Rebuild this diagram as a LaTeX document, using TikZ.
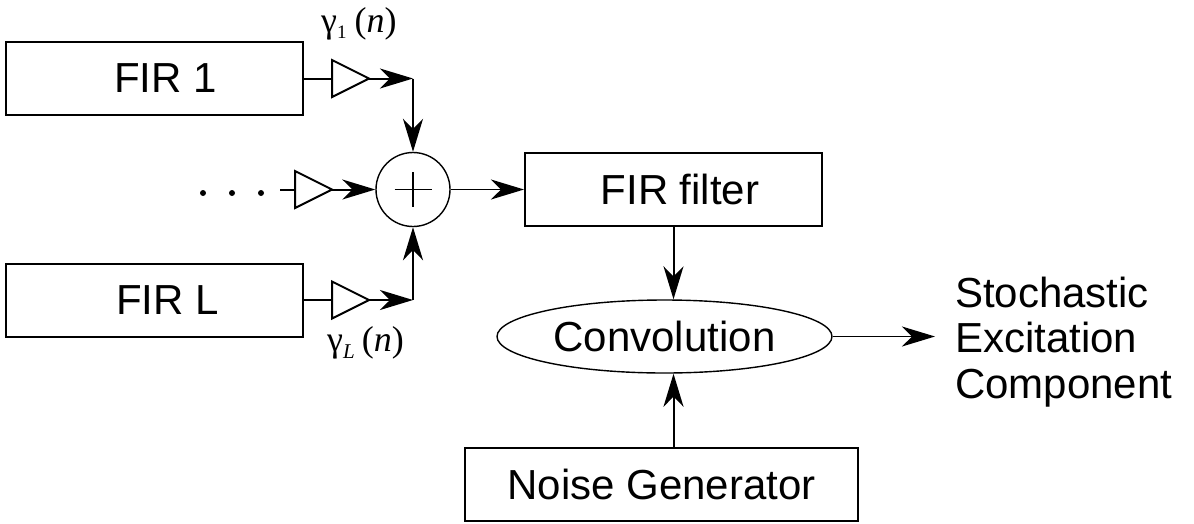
\documentclass[tikz,border=0pt]{standalone}
\usepackage{fontspec}
\setmainfont{Liberation Sans}
\newfontfamily\gainfont{Liberation Serif}
\usetikzlibrary{arrows.meta,shapes.geometric,calc}

\begin{document}
\begin{tikzpicture}[x=1pt,y=-1pt,
  blk/.style={draw,line width=2pt,minimum height=73pt,inner sep=0pt,
              font=\fontsize{42}{46}\selectfont},
  gain/.style={draw,line width=2pt,line join=miter,fill=white},
  wire/.style={line width=2pt},
  thin/.style={line width=1.4pt},
  arr/.style={-{Stealth[length=33pt,width=20pt,inset=10pt]}},
  lbl/.style={inner sep=0pt,font=\gainfont\fontsize{36}{38}\selectfont},
]
\useasboundingbox (0,0) rectangle (1194,523);

% filter bank
\node[blk,minimum width=297pt] (fir1) at (154.5,78.5) {\hspace*{22pt}FIR 1};
\node[blk,minimum width=297pt] (firL) at (154.5,300)  {\hspace*{26pt}FIR L};

% gain stages: input and output points of each triangle
\coordinate (g1in)  at (332,78.5);  \coordinate (g1out) at (369,78.5);
\coordinate (gmin)  at (295,189.5); \coordinate (gmout) at (332,189.5);
\coordinate (gLin)  at (332,300);   \coordinate (gLout) at (369,300);
\foreach \g in {g1,gm,gL}{
  \draw[gain] ($(\g in)+(0,-18.5)$) -- (\g out) -- ($(\g in)+(0,18.5)$) -- cycle;
}

% summing junction
\node[draw,circle,thin,minimum size=74pt,inner sep=0pt] (sum) at (413,189.5) {};
\draw[thin] ($(sum)+(-18.5,0)$) -- ($(sum)+(18.5,0)$);
\draw[thin] ($(sum)+(0,-17.5)$) -- ($(sum)+(0,17.5)$);

% middle branch dots
\foreach \x [count=\i] in {203,232,261}{
  \node[circle,fill,inner sep=0pt,minimum size=6pt] (dot\i) at (\x,193) {};
}
\coordinate (gmfeed) at (280,189.5);

% downstream blocks
\node[blk,minimum width=297pt] (firf) at (673.5,189.5) {\hspace*{13pt}FIR filter};
\node[draw,ellipse,thin,minimum width=335pt,minimum height=73pt,inner sep=0pt,
      font=\fontsize{42}{46}\selectfont] (conv) at (664.5,336.5) {Convolution};
\node[blk,minimum width=393pt] (noise) at (661.5,484.5) {Noise Generator};
\node[inner sep=0pt,anchor=base west,align=left,
      font=\fontsize{42}{45.5}\selectfont] (outtxt) at (955,398)
      {Stochastic\\Excitation\\Component};
\coordinate (outend) at (935,336.5);

% gain labels
\node[lbl,anchor=base west] (gam1) at (321,32)
  {γ\raisebox{-6pt}{\fontsize{19}{19}\selectfont 1}\hspace{8pt}(\textit{n})};
\node[lbl,anchor=base west] (gamL) at (327,351)
  {γ\raisebox{-7pt}{\fontsize{21}{21}\selectfont\textit{L}}\hspace{7pt}(\textit{n})};

% connectors
\coordinate (c1) at (sum.north |- g1out);
\coordinate (cL) at (sum.south |- gLout);
\draw[wire] (fir1.east) -- (g1in);
\draw[wire] (firL.east) -- (gLin);
\draw[wire] (gmfeed) -- (gmin);
\draw[wire,arr] (g1out) -- (c1);
\draw[wire,arr] (c1) -- (sum.north);
\draw[wire,arr] (gLout) -- (cL);
\draw[wire,arr] (cL) -- (sum.south);
\draw[wire,arr] (gmout) -- (sum.west);
\draw[thin,arr] (sum.east) -- (firf.west);
\draw[wire,arr] (firf.south) -- (firf.south |- conv.north);
\draw[wire,arr] (firf.south |- noise.north) -- (firf.south |- conv.south);
\draw[thin,arr] (conv.east) -- (outend);
\end{tikzpicture}
\end{document}
